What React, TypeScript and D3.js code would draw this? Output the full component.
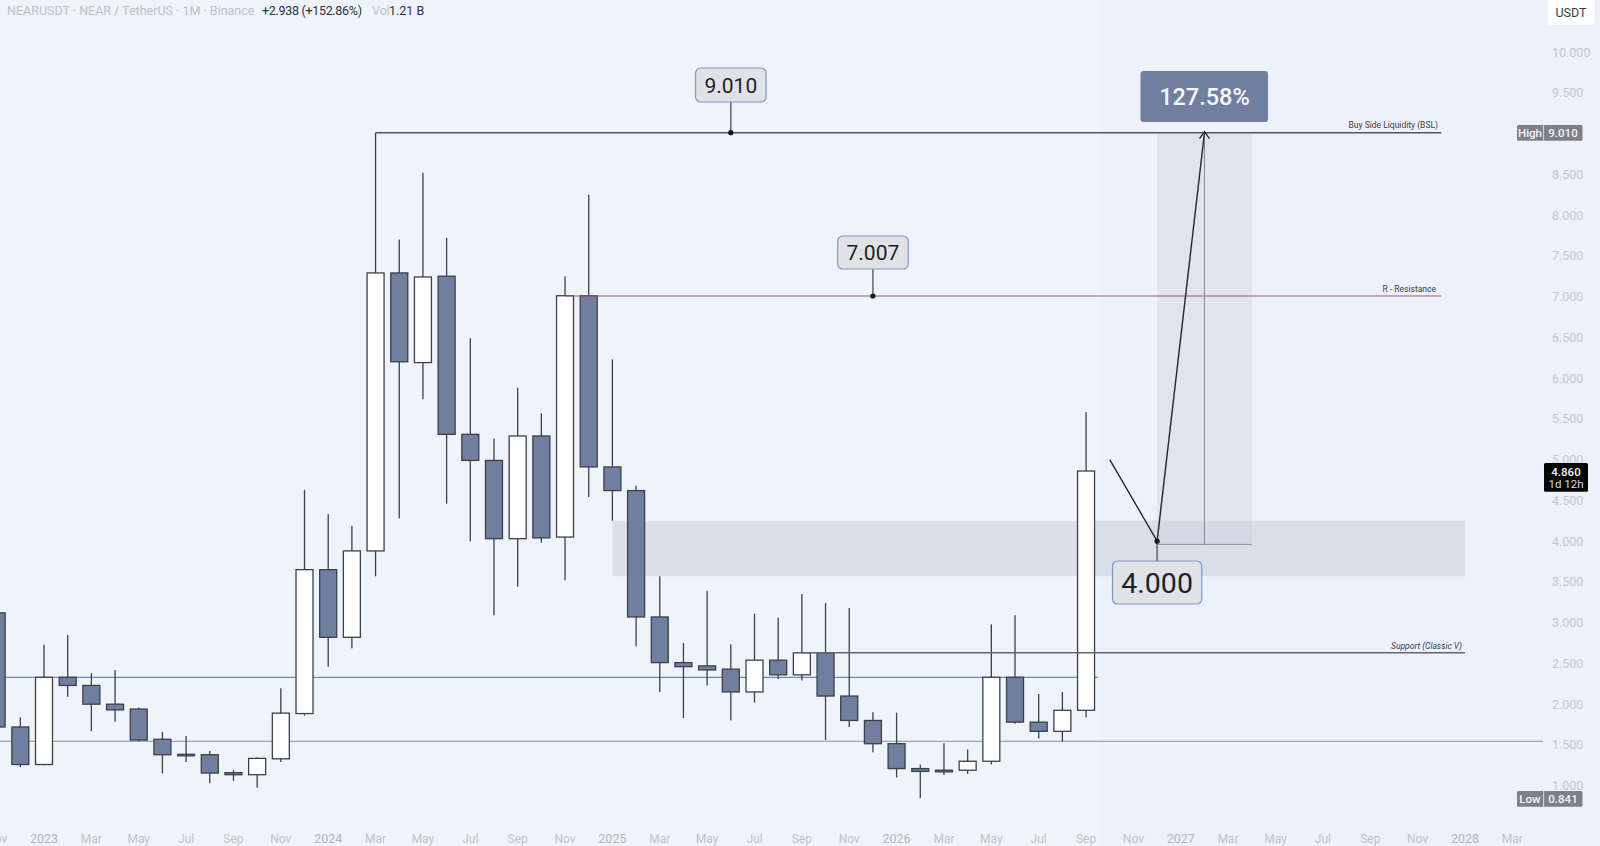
import * as d3 from "d3";

// month index 0 = Jan 2023, first candles are Nov and Dec 2022
const firstMonth = -2;
const opens = [3.12, 1.72, 1.26, 2.33, 2.23, 2.0, 1.94, 1.57, 1.385, 1.38, 1.16, 1.135, 1.33, 1.885, 3.65, 2.82, 3.88, 7.29, 6.19, 7.25, 5.31, 4.99, 4.03, 5.29, 4.05, 7.01, 4.91, 4.62, 3.07, 2.51, 2.47, 2.43, 2.15, 2.54, 2.36, 2.63, 2.1, 1.8, 1.515, 1.21, 1.19, 1.19, 1.3, 2.33, 1.78, 1.667, 1.925];
const highs = [3.12, 1.84, 2.73, 2.85, 2.38, 2.42, 1.96, 1.66, 1.61, 1.425, 1.19, 1.35, 2.195, 4.63, 4.33, 4.19, 9.01, 7.7, 8.52, 7.72, 6.49, 5.26, 5.88, 5.57, 7.25, 8.25, 6.23, 4.68, 3.57, 2.75, 3.39, 2.735, 3.11, 3.06, 3.35, 3.24, 3.18, 1.9, 1.895, 1.26, 1.52, 1.445, 2.98, 3.09, 2.125, 2.15, 5.58];
const lows = [1.72, 1.23, 1.25, 2.09, 1.67, 1.785, 1.545, 1.15, 1.29, 1.03, 1.06, 0.975, 1.29, 1.86, 2.46, 2.685, 3.57, 4.28, 5.74, 4.46, 4.0, 3.09, 3.44, 3.98, 3.52, 4.54, 4.25, 2.71, 2.15, 1.83, 2.23, 1.8, 2.02, 2.31, 2.29, 1.56, 1.72, 1.41, 1.1, 0.845, 1.13, 1.145, 1.26, 1.76, 1.58, 1.54, 1.84];
const closes = [1.72, 1.26, 2.33, 2.23, 2.0, 1.93, 1.56, 1.38, 1.37, 1.155, 1.135, 1.335, 1.89, 3.65, 2.82, 3.88, 7.29, 6.2, 7.24, 5.31, 4.99, 4.03, 5.29, 4.04, 7.01, 4.91, 4.62, 3.07, 2.51, 2.46, 2.42, 2.15, 2.54, 2.36, 2.63, 2.1, 1.8, 1.515, 1.21, 1.175, 1.17, 1.3, 2.33, 1.78, 1.667, 1.925, 4.86];

// 9.000 sits under the High tag in the reference
const priceTicks = [1, 1.5, 2, 2.5, 3, 3.5, 4, 4.5, 5, 5.5, 6, 6.5, 7, 7.5, 8, 8.5, 9.5, 10];
const timeLabels = ["Nov", "2023", "Mar", "May", "Jul", "Sep", "Nov", "2024", "Mar", "May", "Jul", "Sep", "Nov", "2025", "Mar", "May", "Jul", "Sep", "Nov", "2026", "Mar", "May", "Jul", "Sep", "Nov", "2027", "Mar", "May", "Jul", "Sep", "Nov", "2028", "Mar"];
const timeLabelMonths = [-2, 0, 2, 4, 6, 8, 10, 12, 14, 16, 18, 20, 22, 24, 26, 28, 30, 32, 34, 36, 38, 40, 42, 44, 46, 48, 50, 52, 54, 56, 58, 60, 62];

const bsl = 9.01;
const resistance = 7.007;
const support = 2.63;
const blueLevel = 2.33;
const greyLevel = 1.545;
const zoneTop = 4.25;
const zoneBottom = 3.57;
const entry = 3.96;
const entryLabel = 4.0;
const currentPrice = 4.86;
const lowPrice = 0.841;
const projection: [number, number][] = [[45, 5], [47, 4.0], [49, bsl]];

const width = 1600;
const height = 846;
const bodyWidth = 17;
const lineColor = "#3c4049";
const bearColor = "#707f9f";
const axisGrey = "#c3c7cd";
const uiFont = "Roboto, 'Noto Sans', sans-serif";

const x = d3.scaleLinear().domain([0, 12]).range([44, 328.2]);
const y = d3.scaleLinear().domain([1, 10]).range([785.7, 52]);

const candles = opens.map((open, i) => ({
  month: firstMonth + i,
  open,
  high: highs[i],
  low: lows[i],
  close: closes[i],
}));

const pathLine = d3
  .line<[number, number]>()
  .x((d) => x(d[0]))
  .y((d) => y(d[1]));

function ValueBox({ month, top, bottom, size, label, anchor }: { month: number; top: number; bottom: number; size: number; label: string; anchor: number }) {
  const cx = x(month);
  const w = label.length * size * 0.5 + 18;
  const stemFrom = anchor > (top + bottom) / 2 ? bottom : top;
  return (
    <g>
      <line x1={cx} x2={cx} y1={stemFrom} y2={anchor} stroke="#555b66" strokeWidth={1.4} />
      <circle cx={cx} cy={anchor} r={2.6} fill="#15181e" />
      <rect x={cx - w / 2} y={top} width={w} height={bottom - top} rx={5} fill="#e1e2e5" stroke="#7f98c9" strokeWidth={1.2} />
      <text x={cx} y={(top + bottom) / 2} dy="0.36em" textAnchor="middle" fontSize={size} fontFamily={uiFont} fill="#1c1f26">
        {label}
      </text>
    </g>
  );
}

function PriceTag({ name, value, top }: { name: string; value: string; top: number }) {
  return (
    <g fontFamily={uiFont} fontSize={11.5} fontWeight={500} fill="#f4f5f7">
      <rect x={1517} y={top} width={65.5} height={15.7} rx={1.5} fill="#7d8087" />
      <line x1={1543.6} x2={1543.6} y1={top} y2={top + 15.7} stroke="#eef2f8" strokeWidth={0.8} />
      <text x={1530} y={top + 8} dy="0.36em" textAnchor="middle">{name}</text>
      <text x={1563} y={top + 8} dy="0.36em" textAnchor="middle">{value}</text>
    </g>
  );
}

export default function App() {
  const entryY = y(entry);
  return (
    <div style={{ position: "absolute", left: 0, top: 0, width, height, overflow: "hidden" }}>
      <svg width={width} height={height} style={{ display: "block" }}>
        <rect width={width} height={height} fill="#eff4fa" />
        <rect x={x(44.6)} width={width - x(44.6)} height={height} fill="#edf1f9" />

        {/* target box and demand zone */}
        <rect x={x(47)} width={x(51) - x(47)} y={y(bsl)} height={entryY - y(bsl)} fill="#e1e4ef" />
        <rect x={x(24)} width={x(60) - x(24)} y={y(zoneTop)} height={y(zoneBottom) - y(zoneTop)} fill="#c9cedc" opacity={0.55} />

        {/* levels behind candles */}
        <line x1={0} x2={x(44.5)} y1={y(blueLevel)} y2={y(blueLevel)} stroke="#6c88bd" strokeWidth={1.2} />
        <line x1={0} x2={x(63.3)} y1={y(greyLevel)} y2={y(greyLevel)} stroke="#8b8f96" strokeWidth={1.1} />

        {/* candles */}
        {candles.map((d) => {
          const bull = d.close >= d.open;
          const top = y(Math.max(d.open, d.close));
          const bottom = y(Math.min(d.open, d.close));
          const cx = x(d.month);
          return (
            <g key={d.month}>
              <line x1={cx} x2={cx} y1={y(d.high)} y2={y(d.low)} stroke={lineColor} strokeWidth={1.3} />
              <rect
                x={cx - bodyWidth / 2}
                y={top}
                width={bodyWidth}
                height={Math.max(bottom - top, 1.5)}
                fill={bull ? "#ffffff" : bearColor}
                stroke={lineColor}
                strokeWidth={1.3}
              />
            </g>
          );
        })}

        {/* drawn levels */}
        <line x1={x(14)} x2={x(59)} y1={y(bsl)} y2={y(bsl)} stroke="#50545d" strokeWidth={1.5} />
        <line x1={x(22)} x2={x(59)} y1={y(resistance)} y2={y(resistance)} stroke="#9a5a6c" strokeWidth={1.1} />
        <line x1={x(32)} x2={x(60)} y1={y(support)} y2={y(support)} stroke="#62666e" strokeWidth={1.5} />
        <text x={1438} y={y(bsl) - 7.5} dy="0.36em" textAnchor="end" fontSize={8.5} fontFamily={uiFont} fill="#3a3e46">Buy Side Liquidity (BSL)</text>
        <text x={1436} y={y(resistance) - 7.5} dy="0.36em" textAnchor="end" fontSize={8.5} fontFamily={uiFont} fill="#3a3e46">R - Resistance</text>
        <text x={1462} y={y(support) - 7} dy="0.36em" textAnchor="end" fontSize={8.5} fontStyle="italic" fontFamily={uiFont} fill="#3a3e46">Support (Classic V)</text>

        {/* target box edges */}
        <line x1={x(47)} x2={x(51)} y1={entryY} y2={entryY} stroke="#8f939c" strokeWidth={1} />
        <line x1={x(49)} x2={x(49)} y1={y(bsl)} y2={entryY} stroke="#868a94" strokeWidth={1} />

        {/* projected move */}
        <path d={pathLine(projection) ?? ""} fill="none" stroke="#23262d" strokeWidth={1.4} />
        <path
          d={`M${x(49) - 5},${y(bsl) + 6}L${x(49)},${y(bsl) - 1}L${x(49) + 5},${y(bsl) + 6}`}
          fill="none"
          stroke="#23262d"
          strokeWidth={1.3}
        />

        <ValueBox month={29} top={68} bottom={102} size={21} label="9.010" anchor={y(bsl)} />
        <ValueBox month={35} top={236} bottom={269} size={21} label="7.007" anchor={y(resistance)} />
        <ValueBox month={47} top={561} bottom={604} size={28.5} label="4.000" anchor={y(entryLabel)} />

        <rect x={x(49) - 64} y={71} width={127.5} height={51} rx={3} fill={bearColor} />
        <text x={x(49)} y={96.5} dy="0.36em" textAnchor="middle" fontSize={23.5} fontWeight={500} fontFamily={uiFont} fill="#f6f7f9">127.58%</text>

        {/* legend */}
        <text x={7} y={10.7} dy="0.36em" fontSize={12.5} fontFamily={uiFont}>
          <tspan fill="#bcc0c6">NEARUSDT · NEAR / TetherUS · 1M · Binance</tspan>
          <tspan x={262} fill="#2e3138" textLength={100}>+2.938 (+152.86%)</tspan>
          <tspan x={372} fill="#bcc0c6">Vol</tspan>
          <tspan x={389} fill="#2e3138">1.21 B</tspan>
        </text>

        {/* price axis */}
        <rect x={1548} y={-4} width={46.7} height={29} rx={3} fill="#ffffff" />
        <text x={1571} y={12.5} dy="0.36em" textAnchor="middle" fontSize={12.5} fontFamily={uiFont} fill="#3a3e46">USDT</text>
        {priceTicks.map((t) => (
          <text key={t} x={1552} y={y(t)} dy="0.36em" fontSize={12.5} fontFamily={uiFont} fill={axisGrey}>
            {d3.format(".3f")(t)}
          </text>
        ))}
        <PriceTag name="High" value={d3.format(".3f")(bsl)} top={125} />
        <PriceTag name="Low" value={d3.format(".3f")(lowPrice)} top={791} />
        <rect x={1544} y={463} width={44} height={28.7} rx={1.5} fill="#050505" />
        <text x={1566} y={472} dy="0.36em" textAnchor="middle" fontSize={11.5} fontWeight={500} fontFamily={uiFont} fill="#f2f2f2">{d3.format(".3f")(currentPrice)}</text>
        <text x={1566} y={484} dy="0.36em" textAnchor="middle" fontSize={11.5} fontFamily={uiFont} fill="#d8d8d8">1d 12h</text>

        {/* time axis */}
        {timeLabels.map((label, i) => (
          <text
            key={i}
            x={x(timeLabelMonths[i])}
            y={838.5}
            dy="0.36em"
            textAnchor="middle"
            fontSize={label.length === 4 ? 12.5 : 12}
            fontFamily={uiFont}
            fill={label.length === 4 ? "#b0b5bd" : "#bfc3ca"}
          >
            {label}
          </text>
        ))}
      </svg>
    </div>
  );
}
